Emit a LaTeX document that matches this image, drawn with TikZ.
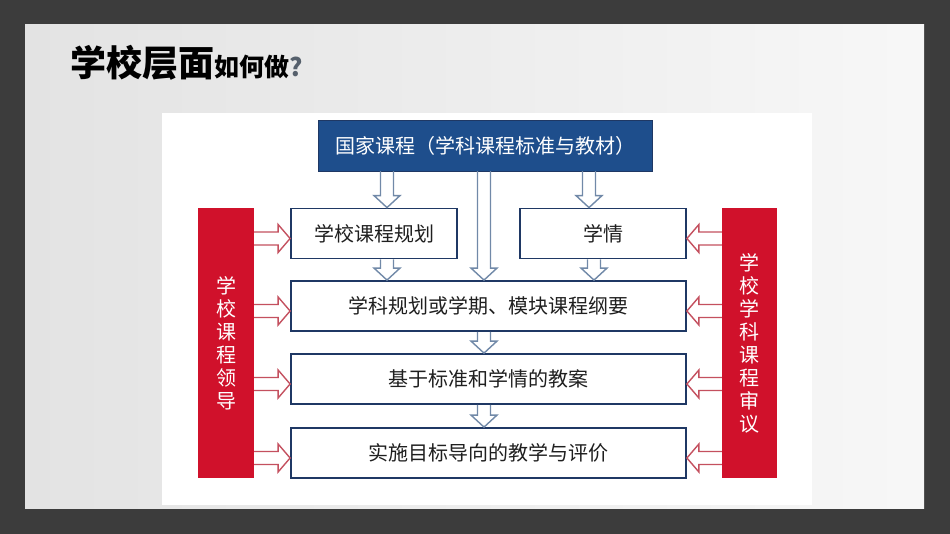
\documentclass[tikz,border=0pt]{standalone}
\usepackage{fontspec}
\setmainfont{Noto Sans CJK SC}
\usetikzlibrary{calc}
\definecolor{frame}{HTML}{3C3C3C}
\definecolor{navy}{HTML}{1F3864}
\definecolor{natblue}{HTML}{1E4E8C}
\definecolor{barred}{HTML}{D0112B}
\definecolor{arrowred}{HTML}{C4505F}
\definecolor{arrowblue}{HTML}{7189A8}
\definecolor{qgray}{HTML}{56606C}

\begin{document}
\begin{tikzpicture}[x=1pt,y=-1pt,
  box/.style={draw=navy,line width=1.8pt,fill=white,minimum height=50pt,inner sep=0pt,
    text=black!88,font=\fontsize{20}{20}\selectfont},
  bar/.style={fill=barred,minimum width=56pt,minimum height=270pt,inner sep=0pt,
    text=white,align=center,font=\fontsize{20}{23}\selectfont},
  blockdown/.style={draw=arrowblue,line width=1.4pt,
    to path={let \p1=(\tikztostart), \p2=(\tikztotarget) in
      ({\x1-6.5pt},\y1) -- ({\x1-6.5pt},{\y2+12pt}) -- ({\x1-13pt},{\y2+12pt}) -- (\x1,\y2)
      -- ({\x1+13pt},{\y2+12pt}) -- ({\x1+6.5pt},{\y2+12pt}) -- ({\x1+6.5pt},\y1)}},
  blockside/.style={draw=arrowred,line width=1.4pt,
    to path={let \p1=(\tikztostart), \p2=(\tikztotarget), \n1={\x2-sign(\x2-\x1)*12} in
      (\x1,{\y1+6.5pt}) -- ({\n1*1pt},{\y1+6.5pt}) -- ({\n1*1pt},{\y1+14pt}) -- (\x2,\y1)
      -- ({\n1*1pt},{\y1-14pt}) -- ({\n1*1pt},{\y1-6.5pt}) -- (\x1,{\y1-6.5pt})}}]

% slide background
\fill[frame] (0,0) rectangle (950,534);
\shade[left color=black!11,right color=black!3] (25,25) rectangle (924,508);
\fill[white] (162,113) rectangle (812,505);

% title
\node[anchor=base west,inner sep=0pt,font=\bfseries] (title) at (70,77)
  {{\fontsize{36}{36}\selectfont 学校层面}{\fontsize{25}{25}\selectfont 如何做\textcolor{qgray}{?}}};

% boxes
\node[fill=natblue,draw=navy,minimum width=334pt,minimum height=51pt,
  text=white,font=\fontsize{20}{20}\selectfont] (nat) at (485,145.5) {国家课程（学科课程标准与教材）};
\node[box,minimum width=166pt] (plan) at (374,233.5) {学校课程规划};
\node[box,minimum width=166pt] (stu) at (603,233.5) {学情};
\node[box,minimum width=395pt] (subj) at (488.5,306) {学科规划或学期、模块课程纲要};
\node[box,minimum width=395pt] (lesson) at (488.5,379) {基于标准和学情的教案};
\node[box,minimum width=395pt] (teach) at (488.5,453) {实施目标导向的教学与评价};

% red side bars
\node[bar] (lead) at (226,343) {学\\校\\课\\程\\领\\导};
\node[bar,minimum width=55pt] (review) at (749.5,343) {学\\校\\学\\科\\课\\程\\审\\议};

% arrow columns
\coordinate (colL) at (387,0);
\coordinate (colM) at (484,0);
\coordinate (colR) at (589,0);
\coordinate (colS) at (594,0);

% hollow down arrows
\draw[blockdown] (nat.south -| colL) to (plan.north -| colL);
\draw[blockdown] (nat.south -| colM) to (subj.north -| colM);
\draw[blockdown] (nat.south -| colR) to (stu.north -| colR);
\draw[blockdown] (plan.south -| colL) to (subj.north -| colL);
\draw[blockdown] (stu.south -| colS) to (subj.north -| colS);
\draw[blockdown] (subj.south -| colM) to (lesson.north -| colM);
\draw[blockdown] (lesson.south -| colM) to (teach.north -| colM);

% red side arrows
\foreach \b in {plan,subj,lesson,teach}
  \draw[blockside] ($(lead.east |- \b.west)+(0,5)$) to ($(\b.west)+(0,5)$);
\foreach \b in {stu,subj,lesson,teach}
  \draw[blockside] ($(review.west |- \b.east)+(0,5)$) to ($(\b.east)+(0,5)$);

\end{tikzpicture}
\end{document}
